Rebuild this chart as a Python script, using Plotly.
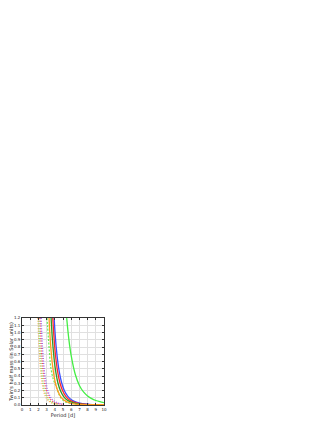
import plotly.graph_objects as go

# Solid curves (period [d], twin half mass [Msun])
blue_P = [3.92, 4.03, 4.17, 4.36, 4.56, 4.85, 5.16, 5.59, 6.07, 6.62, 7.36, 8.18, 9.1, 10.0]
blue_M = [1.2, 1.0, 0.8, 0.6, 0.45, 0.3, 0.2, 0.12, 0.07, 0.04, 0.02, 0.01, 0.005, 0.003]

red_P = [3.75, 3.86, 3.99, 4.17, 4.36, 4.64, 4.94, 5.34, 5.8, 6.33, 7.04, 7.83, 8.8, 10.0]
red_M = [1.2, 1.0, 0.8, 0.6, 0.45, 0.3, 0.2, 0.12, 0.07, 0.04, 0.02, 0.01, 0.005, 0.003]

green_P = [3.55, 3.65, 3.78, 3.95, 4.13, 4.39, 4.68, 5.06, 5.5, 5.99, 6.66, 7.41, 8.5, 10.0]
green_M = [1.2, 1.0, 0.8, 0.6, 0.45, 0.3, 0.2, 0.12, 0.07, 0.04, 0.02, 0.01, 0.005, 0.003]

orange_P = [3.3, 3.39, 3.51, 3.67, 3.84, 4.08, 4.35, 4.7, 5.11, 5.57, 6.19, 6.89, 8.0, 10.0]
orange_M = [1.2, 1.0, 0.8, 0.6, 0.45, 0.3, 0.2, 0.12, 0.07, 0.04, 0.02, 0.01, 0.006, 0.004]

lime_P = [5.45, 5.7, 6.0, 6.5, 7.0, 7.5, 8.0, 8.5, 9.0, 9.5, 10.0]
lime_M = [1.2, 0.92, 0.68, 0.42, 0.27, 0.18, 0.124, 0.087, 0.062, 0.045, 0.033]

# Dashed light green curve
limed_P = [3.05, 3.2, 3.35, 3.45, 3.6, 3.8, 4.0, 4.18, 4.5, 4.8, 5.2, 5.7, 6.5, 7.5]
limed_M = [1.2, 0.95, 0.72, 0.57, 0.46, 0.36, 0.3, 0.25, 0.15, 0.09, 0.05, 0.03, 0.015, 0.007]

# Dotted curves
dorange_P = [1.95, 2.01, 2.09, 2.19, 2.3, 2.46, 2.63, 2.86, 3.13, 3.44, 3.86, 4.33]
dlime_P = [2.05, 2.11, 2.19, 2.3, 2.41, 2.58, 2.76, 3.01, 3.29, 3.61, 4.06, 4.55]
dred_P = [2.2, 2.27, 2.35, 2.47, 2.59, 2.77, 2.97, 3.23, 3.53, 3.88, 4.35, 4.89]
dpurple_P = [2.33, 2.4, 2.49, 2.62, 2.74, 2.94, 3.14, 3.42, 3.74, 4.11, 4.61, 5.18]
dotted_M = [1.2, 1.0, 0.8, 0.6, 0.45, 0.3, 0.2, 0.12, 0.07, 0.04, 0.02, 0.01]

x_ticks = list(range(0, 11))
y_ticks = [round(0.1 * i, 1) for i in range(13)]

fig = go.Figure()

def add(x, y, color, dash="solid", width=1.3):
    fig.add_trace(go.Scatter(x=x, y=y, mode="lines",
                             line=dict(color=color, width=width, dash=dash, shape="spline"),
                             showlegend=False, hoverinfo="skip"))

add(dorange_P, dotted_M, "#ffb050", "1px,1.5px", 1.4)
add(dlime_P, dotted_M, "#88e070", "1px,1.5px", 1.4)
add(dred_P, dotted_M, "#ff5050", "1px,1.5px", 1.4)
add(dpurple_P, dotted_M, "#9a5cf0", "1px,1.5px", 1.4)
add(limed_P, limed_M, "#66ee55", "2px,1.5px", 1.2)
add(blue_P, blue_M, "#3850ff")
add(red_P, red_M, "#ff2a2a")
add(green_P, green_M, "#2a9a2a")
add(orange_P, orange_M, "#ff9a20")
add(lime_P, lime_M, "#44ee44")

axis_common = dict(
    showline=True, linecolor="#333", linewidth=0.8, mirror="ticks",
    ticks="inside", ticklen=2, tickwidth=0.6, tickcolor="#333",
    showgrid=True, gridcolor="#e0e0e0", gridwidth=0.6,
    zeroline=False, automargin=False,
    tickfont=dict(size=4, family="DejaVu Sans", color="#222"),
)

fig.update_xaxes(range=[0, 10], tickvals=x_ticks, ticktext=[str(t) for t in x_ticks],
                 title=dict(text="Period [d]", font=dict(size=5, family="DejaVu Sans", color="#222"), standoff=1),
                 **axis_common)
fig.update_yaxes(range=[0, 1.2], tickvals=y_ticks, ticktext=[f"{t:.1f}" for t in y_ticks],
                 title=dict(text="Twin's half mass (in Solar units)", font=dict(size=5, family="DejaVu Sans", color="#222"), standoff=2),
                 **axis_common)

fig.update_layout(width=319, height=415, margin=dict(l=14, r=223, t=310, b=18, autoexpand=False),
                  paper_bgcolor="white", plot_bgcolor="white", showlegend=False)

fig.write_html("out.html")
